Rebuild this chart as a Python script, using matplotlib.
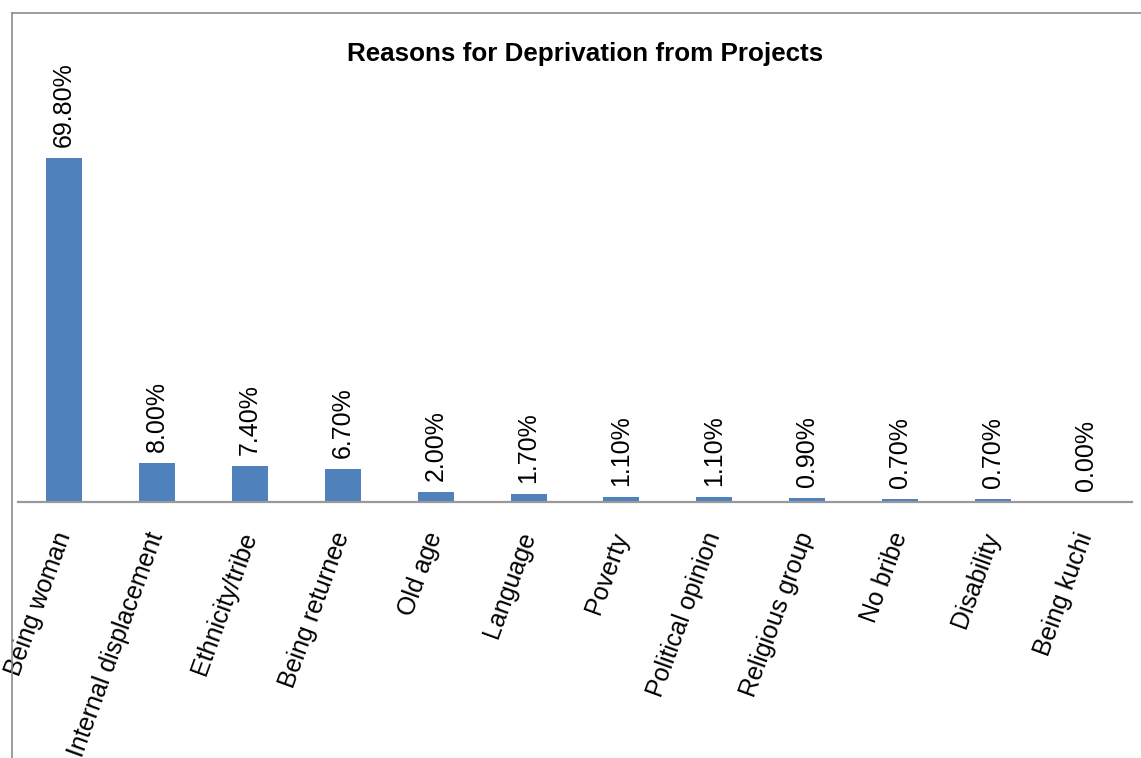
import matplotlib
matplotlib.use("Agg")
import matplotlib.pyplot as plt
from matplotlib.lines import Line2D

categories = ["Being woman", "Internal displacement", "Ethnicity/tribe", "Being returnee",
              "Old age", "Language", "Poverty", "Political opinion", "Religious group",
              "No bribe", "Disability", "Being kuchi"]
values = [69.8, 8.0, 7.4, 6.7, 2.0, 1.7, 1.1, 1.1, 0.9, 0.7, 0.7, 0.0]
value_labels = ["69.80%", "8.00%", "7.40%", "6.70%", "2.00%", "1.70%", "1.10%", "1.10%",
                "0.90%", "0.70%", "0.70%", "0.00%"]
title = "Reasons for Deprivation from Projects"

plt.rcParams['font.family'] = ['Liberation Sans', 'DejaVu Sans']

W, H = 1141, 758
fig = plt.figure(figsize=(W / 100, H / 100), dpi=100)
fig.patch.set_facecolor("white")

# axes placement in pixels
x0, x1 = 17.5, 1132.5
ybase, ytop = 502, 502 - 80 * 4.93
ax = fig.add_axes([x0 / W, 1 - ybase / H, (x1 - x0) / W, (ybase - ytop) / H])
ax.set_xlim(-0.5, len(categories) - 0.5)
ax.set_ylim(0, 80)

xs = list(range(len(categories)))
ax.bar(xs, values, width=0.3875, color="#4F81BD", zorder=2)

for x, v, lab in zip(xs, values, value_labels):
    ax.annotate(lab, (x, v), xytext=(0, 11), textcoords="offset pixels",
                rotation=90, ha="center", va="bottom", fontsize=18, color="black")

for s in ["top", "right", "left"]:
    ax.spines[s].set_visible(False)
ax.spines["bottom"].set_color("#999999")
ax.spines["bottom"].set_linewidth(1.6)
ax.set_yticks([])
ax.set_xticks(xs)
ax.set_xticklabels([])
ax.tick_params(axis="x", length=0)

for x, lab in zip(xs, categories):
    ax.annotate(lab, (x, 0), xytext=(0, -31), textcoords="offset pixels",
                rotation=70, rotation_mode="anchor", ha="right", va="center",
                fontsize=18, color="black")

fig.text(585 / W, 1 - 61.5 / H, title, ha="center", va="baseline",
         fontsize=18.7, fontweight="bold", color="black")

# figure border (cropped chart frame)
fig.add_artist(Line2D([11.5 / W, 11.5 / W], [0, 1 - 12.5 / H], color="#8c8c8c", lw=1.2,
                      transform=fig.transFigure))
fig.add_artist(Line2D([11.5 / W, 1], [1 - 12.5 / H, 1 - 12.5 / H], color="#8c8c8c", lw=1.2,
                      transform=fig.transFigure))

fig.savefig("out.png", dpi=100)
